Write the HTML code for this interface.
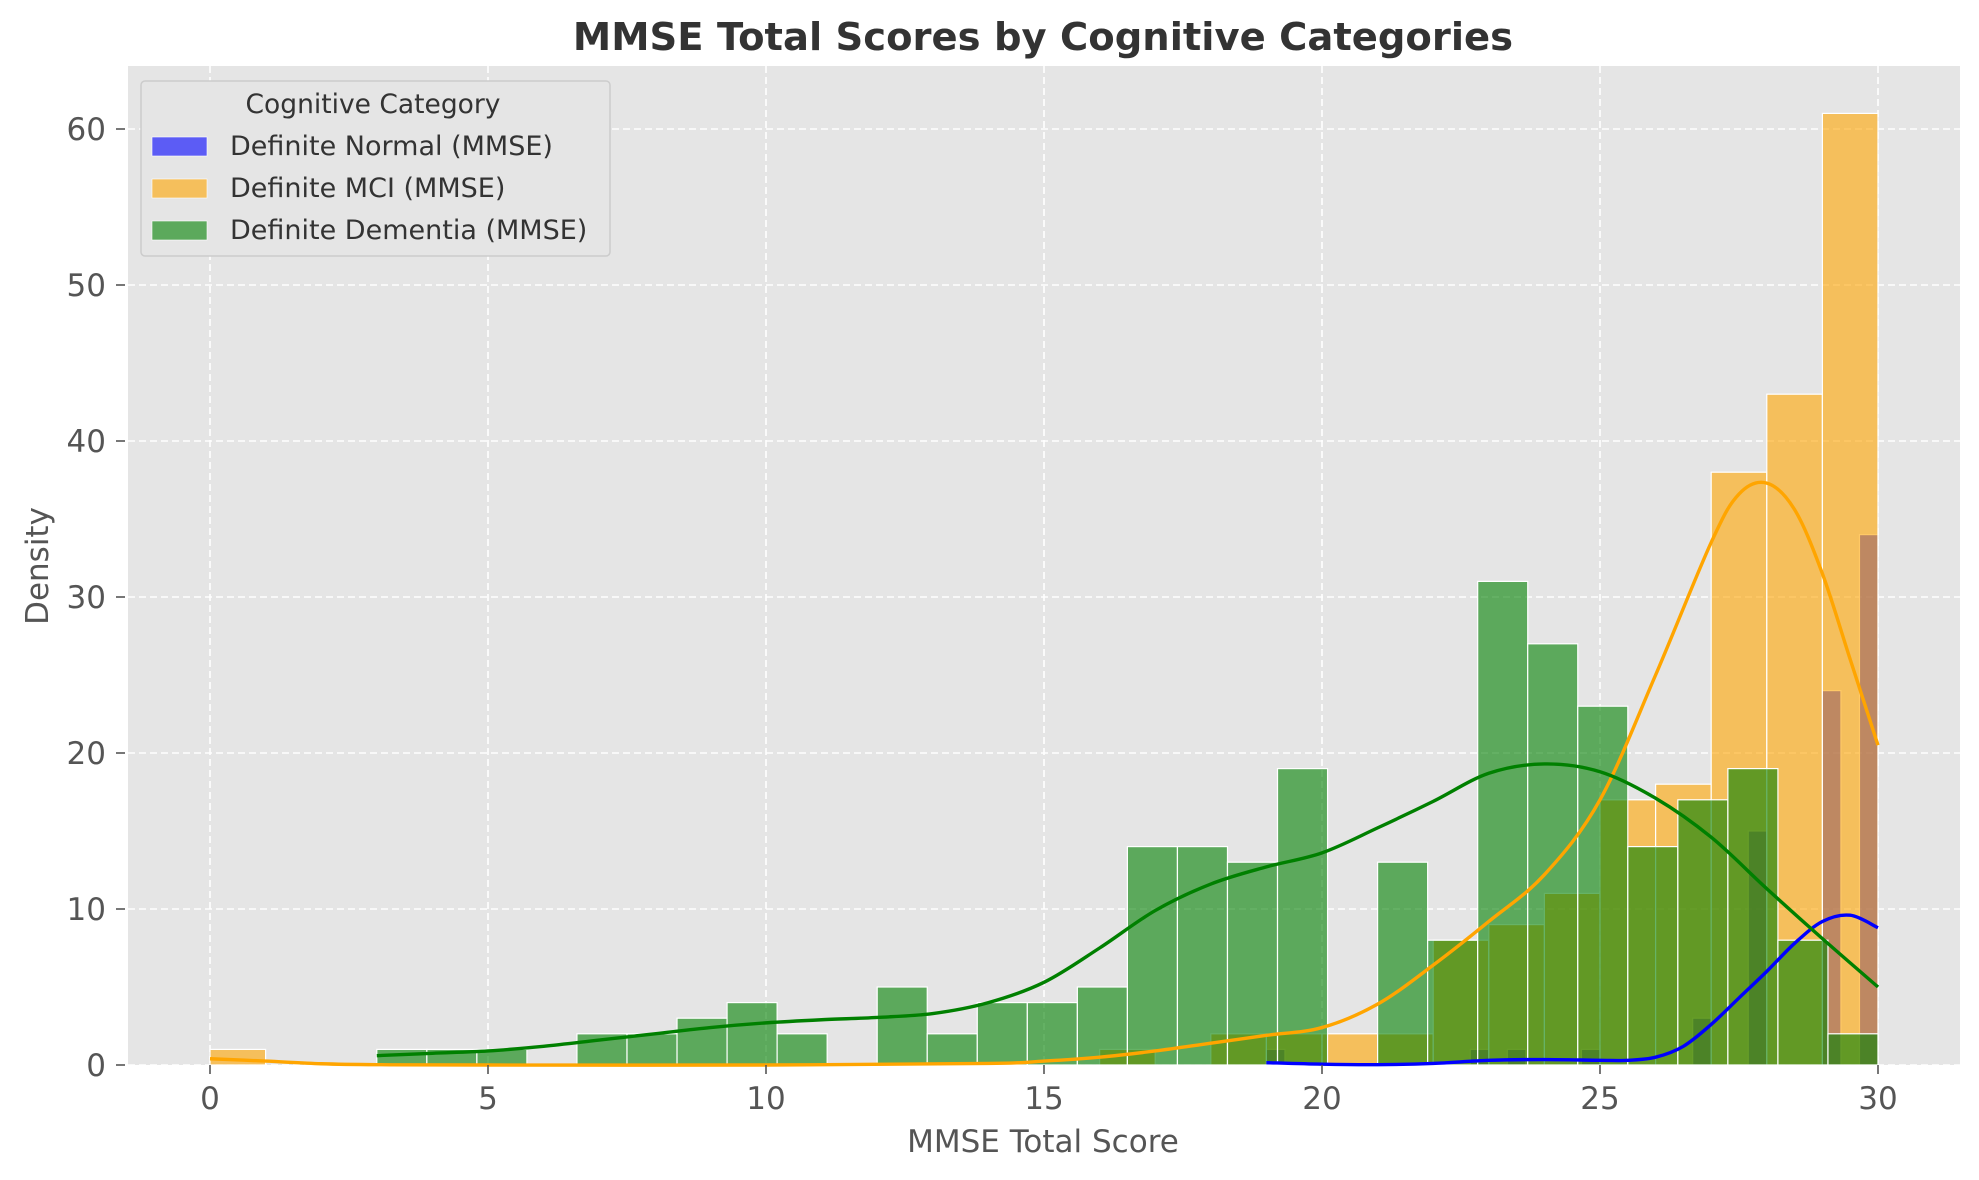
<!DOCTYPE html>
<html><head><meta charset="utf-8"><style>
html,body{margin:0;padding:0;background:#fff;}
svg{display:block;font-family:"DejaVu Sans","Liberation Sans",sans-serif;}
</style></head><body>
<svg id="chart" width="1979" height="1180" viewBox="0 0 1979 1180" xmlns="http://www.w3.org/2000/svg">
<rect x="0" y="0" width="1979" height="1180" fill="#ffffff"/>
<rect x="128" y="66" width="1832" height="999" fill="#e5e5e5"/>
<g id="grid"></g>
<g id="bars"></g>
<g id="lines"></g>
<g id="axes"></g>
<text x="1043" y="50" text-anchor="middle" font-size="38.5" font-weight="bold" fill="#333333">MMSE Total Scores by Cognitive Categories</text>
<text x="1043" y="1152" text-anchor="middle" font-size="31" fill="#555555">MMSE Total Score</text>
<text x="0" y="0" transform="translate(48,566) rotate(-90)" text-anchor="middle" font-size="31" fill="#555555">Density</text>
<g>
<rect x="141" y="81" width="469" height="175" rx="4" fill="#e5e5e5" stroke="#cccccc" stroke-width="1.5"/>
<text x="373" y="113" text-anchor="middle" font-size="26.5" fill="#333333">Cognitive Category</text>
<rect x="152" y="137" width="55" height="19" fill="#0000ff" fill-opacity="0.6" stroke="#fff" stroke-width="0.6"/>
<text x="230" y="155" font-size="27" fill="#333333">Definite Normal (MMSE)</text>
<rect x="152" y="179" width="55" height="19" fill="#ffa500" fill-opacity="0.6" stroke="#fff" stroke-width="0.6"/>
<text x="230" y="197" font-size="27" fill="#333333">Definite MCI (MMSE)</text>
<rect x="152" y="221" width="55" height="19" fill="#008000" fill-opacity="0.6" stroke="#fff" stroke-width="0.6"/>
<text x="230" y="239" font-size="27" fill="#333333">Definite Dementia (MMSE)</text>
</g>
</svg>
<script>
// ---- data ----
const xTicks = [0, 5, 10, 15, 20, 25, 30];
const yTicks = [0, 10, 20, 30, 40, 50, 60];
const normalBinStart = 19, normalBinWidth = 1/3;
const normalCounts = [1,0,0,0,0,0,0,0,0,0,0,1,0,1,0,0,0,1,0,0,0,0,0,3,0,0,15,0,0,0,24,0,34];
const mciBinStart = 0, mciBinWidth = 1;
const mciCounts = [1,0,0,0,0,0,0,0,0,0,0,0,0,0,0,0,1,0,2,2,2,2,8,9,11,17,18,38,43,61];
const dementiaBinStart = 3, dementiaBinWidth = 0.9;
const dementiaCounts = [1,1,1,0,2,2,3,4,2,0,5,2,4,4,5,14,14,13,19,0,13,8,31,27,23,14,17,19,8,2];
const normalKdeX = [19,20,21,22,23,24,25,25.5,26,26.5,27,27.5,28,28.5,29,29.5,30];
const normalKdeY = [0.15,0.05,0.02,0.1,0.3,0.35,0.3,0.3,0.5,1.2,2.6,4.3,6.0,7.8,9.2,9.6,8.8];
const mciKdeX = [0,1,2,3,5,10,14,15,16,17,18,19,20,21,22,23,24,25,26,27,27.5,28,28.5,29,29.5,30];
const mciKdeY = [0.4,0.25,0.08,0.02,0,0,0.1,0.25,0.5,0.9,1.4,1.9,2.4,3.9,6.4,9.2,12.2,17.0,25.0,33.5,36.6,37.3,35.6,31.5,26.0,20.5];
const dementiaKdeX = [3,4,5,6,7,8,9,10,11,12,13,14,15,16,17,18,19,20,21,22,23,24,25,26,27,28,29,30];
const dementiaKdeY = [0.6,0.75,0.9,1.2,1.6,2.0,2.4,2.7,2.9,3.05,3.3,4.0,5.3,7.5,9.9,11.6,12.7,13.6,15.2,16.9,18.7,19.3,18.8,17.1,14.6,11.3,8.1,5.0];

const X0 = 210, XS = 55.6, Y0 = 1065, YS = 15.6;
const xs = v => X0 + v * XS;
const ys = v => Y0 - v * YS;
const NS = 'http://www.w3.org/2000/svg';
function mk(tag, attrs, parent){ const e = document.createElementNS(NS, tag); for (const k in attrs) e.setAttribute(k, attrs[k]); parent.appendChild(e); return e; }

const grid = document.getElementById('grid');
xTicks.forEach(t => {
  const l = mk('line', {x1: xs(t), x2: xs(t), y1: 66, y2: 1065, stroke: '#ffffff', 'stroke-width': 1.6, 'stroke-dasharray': '7,4'}, grid);
  
  
});
yTicks.forEach(t => {
  const l = mk('line', {x1: 128, x2: 1960, y1: ys(t), y2: ys(t), stroke: '#ffffff', 'stroke-width': 1.6, 'stroke-dasharray': '7,4'}, grid);
  
  
});

const bars = document.getElementById('bars');
function drawBars(counts, start, width, color, name){
  counts.forEach((c, i) => {
    if (c <= 0) return;
    const x1 = xs(start + i * width), x2 = xs(start + (i + 1) * width);
    const r = mk('rect', {x: x1, y: ys(c), width: x2 - x1, height: ys(0) - ys(c), fill: color, 'fill-opacity': 0.6, stroke: '#ffffff', 'stroke-width': 1.2}, bars);
    
    
  });
}
drawBars(normalCounts, normalBinStart, normalBinWidth, '#0000ff', 'bar-normal');
drawBars(mciCounts, mciBinStart, mciBinWidth, '#ffa500', 'bar-mci');
drawBars(dementiaCounts, dementiaBinStart, dementiaBinWidth, '#008000', 'bar-dementia');

const lines = document.getElementById('lines');
function smoothPath(xa, ya){
  const p = xa.map((x, i) => [xs(x), ys(ya[i])]);
  let d = 'M' + p[0][0] + ',' + p[0][1];
  for (let i = 0; i < p.length - 1; i++){
    const p0 = p[i-1] || p[i], p1 = p[i], p2 = p[i+1], p3 = p[i+2] || p2;
    const c1 = [p1[0] + (p2[0]-p0[0])/6, p1[1] + (p2[1]-p0[1])/6];
    const c2 = [p2[0] - (p3[0]-p1[0])/6, p2[1] - (p3[1]-p1[1])/6];
    d += ' C' + c1[0] + ',' + c1[1] + ' ' + c2[0] + ',' + c2[1] + ' ' + p2[0] + ',' + p2[1];
  }
  return d;
}
function drawLine(xa, ya, color, name){
  const l = mk('path', {d: smoothPath(xa, ya), fill: 'none', stroke: color, 'stroke-width': 3.4, 'stroke-linejoin': 'round'}, lines);
  
  
}
drawLine(normalKdeX, normalKdeY, '#0000ff', 'kde-normal');
drawLine(mciKdeX, mciKdeY, '#ffa500', 'kde-mci');
drawLine(dementiaKdeX, dementiaKdeY, '#008000', 'kde-dementia');

const axes = document.getElementById('axes');
xTicks.forEach(t => {
  const m = mk('line', {x1: xs(t), x2: xs(t), y1: 1065, y2: 1074, stroke: '#555555', 'stroke-width': 1.6}, axes);
  
  
  const tx = mk('text', {x: xs(t), y: 1109, 'text-anchor': 'middle', 'font-size': 31, fill: '#555555'}, axes);
  tx.textContent = String(t);
  
  
});
yTicks.forEach(t => {
  const m = mk('line', {x1: 116, x2: 125, y1: ys(t), y2: ys(t), stroke: '#555555', 'stroke-width': 1.6}, axes);
  
  
  const tx = mk('text', {x: 106, y: ys(t) + 11, 'text-anchor': 'end', 'font-size': 31, fill: '#555555'}, axes);
  tx.textContent = String(t);
  
  
});
</script>
</body></html>
